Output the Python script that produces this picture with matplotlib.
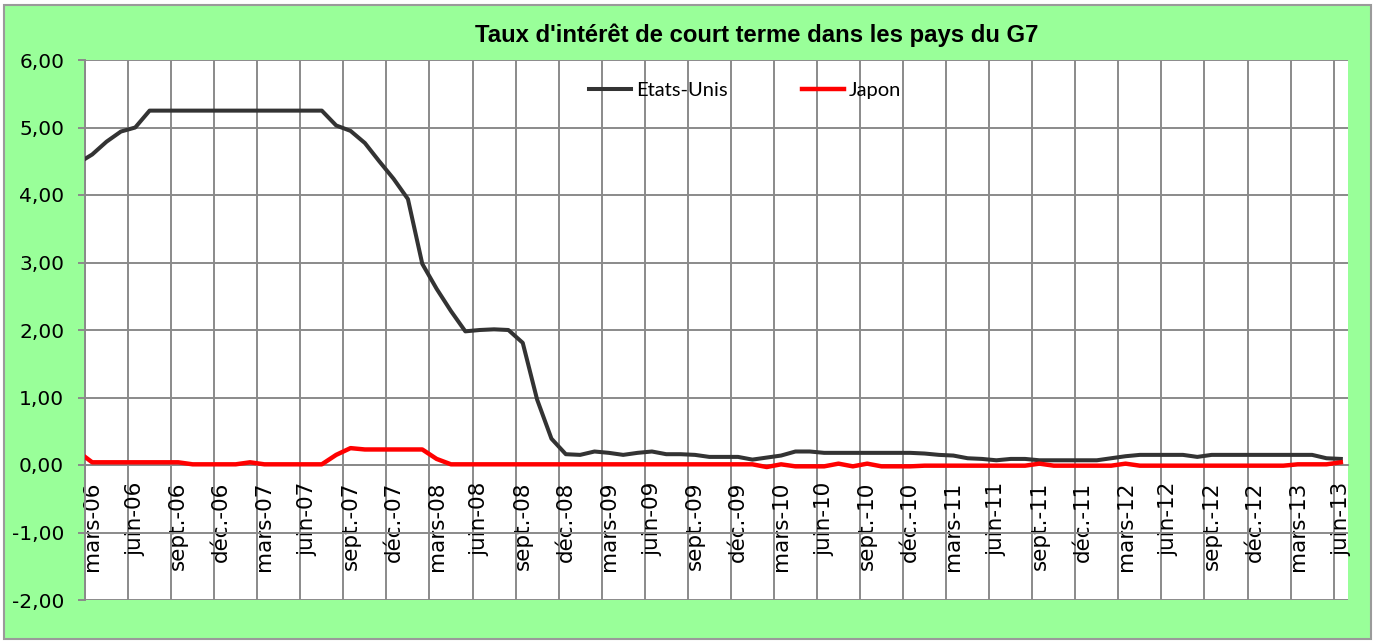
import matplotlib
matplotlib.use("Agg")
import matplotlib.pyplot as plt
import numpy as np
from matplotlib.patches import Rectangle
from matplotlib.transforms import ScaledTranslation
from matplotlib.ticker import FixedLocator, FuncFormatter

# ---- data (monthly, févr.-06 .. juin-13) ----
mois = ["janv.", "févr.", "mars", "avr.", "mai", "juin",
        "juil.", "août", "sept.", "oct.", "nov.", "déc."]
categories = []
for yr in range(6, 14):
    for mi, mname in enumerate(mois):
        if (yr == 6 and mi < 1) or (yr == 13 and mi > 5):
            continue
        categories.append(f"{mname}-{yr:02d}")

etats_unis = [
    4.47, 4.60, 4.79, 4.94, 5.00, 5.25, 5.25, 5.25, 5.25, 5.25, 5.25,          # 2006 (fév-déc)
    5.25, 5.25, 5.25, 5.25, 5.25, 5.25, 5.25, 5.03, 4.95, 4.77, 4.50, 4.24,    # 2007
    3.94, 2.98, 2.61, 2.28, 1.98, 2.00, 2.01, 2.00, 1.81, 0.97, 0.39, 0.16,    # 2008
    0.15, 0.20, 0.18, 0.15, 0.18, 0.20, 0.16, 0.16, 0.15, 0.12, 0.12, 0.12,    # 2009
    0.08, 0.11, 0.14, 0.20, 0.20, 0.18, 0.18, 0.18, 0.18, 0.18, 0.18, 0.18,    # 2010
    0.17, 0.15, 0.14, 0.10, 0.09, 0.07, 0.09, 0.09, 0.07, 0.07, 0.07, 0.07,    # 2011
    0.07, 0.10, 0.13, 0.15, 0.15, 0.15, 0.15, 0.12, 0.15, 0.15, 0.15, 0.15,    # 2012
    0.15, 0.15, 0.15, 0.15, 0.10, 0.09,                                        # 2013
]
japon = [
    0.20, 0.04, 0.04, 0.04, 0.04, 0.04, 0.04, 0.04, 0.01, 0.01, 0.01,          # 2006
    0.01, 0.04, 0.01, 0.01, 0.01, 0.01, 0.01, 0.15, 0.25, 0.23, 0.23, 0.23,    # 2007
    0.23, 0.23, 0.09, 0.01, 0.01, 0.01, 0.01, 0.01, 0.01, 0.01, 0.01, 0.01,    # 2008
    0.01, 0.01, 0.01, 0.01, 0.01, 0.01, 0.01, 0.01, 0.01, 0.01, 0.01, 0.01,    # 2009
    0.01, -0.03, 0.01, -0.02, -0.02, -0.02, 0.02, -0.02, 0.02, -0.02, -0.02, -0.02,  # 2010
    -0.01, -0.01, -0.01, -0.01, -0.01, -0.01, -0.01, -0.01, 0.02, -0.01, -0.01, -0.01,  # 2011
    -0.01, -0.01, 0.02, -0.01, -0.01, -0.01, -0.01, -0.01, -0.01, -0.01, -0.01, -0.01,  # 2012
    -0.01, -0.01, 0.01, 0.01, 0.01, 0.04,                                     # 2013
]
y_ticks = [-2, -1, 0, 1, 2, 3, 4, 5, 6]
title = "Taux d'intérêt de court terme dans les pays du G7"

# ---- figure ----
W, H = 1376, 643
fig = plt.figure(figsize=(W / 100, H / 100), dpi=100)
fig.patch.set_facecolor("white")
fig.patches.append(Rectangle((4 / W, 4 / H), (W - 9) / W, (H - 9) / H,
                             transform=fig.transFigure, facecolor="#99FF99",
                             edgecolor="#9a9a9a", lw=1.5, zorder=-10))

ax = fig.add_axes([85 / W, 1 - 600 / H, (1348 - 85) / W, 540 / H])
ax.set_facecolor("white")

x = np.arange(len(categories))
ax.plot(x, etats_unis, color="#333333", lw=2.9, solid_joinstyle="round",
        label="Etats-Unis", zorder=3)
ax.plot(x, japon, color="#FF0000", lw=3.2, solid_joinstyle="round",
        label="Japon", zorder=3)

ax.set_xlim(0.5, len(categories) - 0.5)
ax.set_ylim(-2, 6)

grid_col = "#8a8a8a"
# x: gridlines at category boundaries, labels at category centers
ax.xaxis.set_major_locator(FixedLocator(np.arange(0.5, len(categories) - 0.9, 3)))
ax.xaxis.set_major_formatter(FuncFormatter(lambda v, p: ""))
lab_pos = np.arange(1, len(categories), 3)
ax.xaxis.set_minor_locator(FixedLocator(lab_pos))
ax.set_xticklabels([categories[i] for i in lab_pos], minor=True)
ax.tick_params(axis="x", which="both", length=0)
ax.tick_params(axis="x", which="minor", pad=12, labelrotation=90,
               labelsize=15.5, labelcolor="black")
for lab in ax.get_xticklabels(minor=True):
    lab.set_fontfamily("Lato")
    lab.set_transform(lab.get_transform() + ScaledTranslation(4 / 100, 0, fig.dpi_scale_trans))

ax.set_yticks(y_ticks)
ax.yaxis.set_major_formatter(FuncFormatter(lambda v, p: f"{v:.2f}".replace(".", ",")))
ax.tick_params(axis="y", which="major", length=5, width=1.4, color=grid_col,
               pad=10, labelsize=14.5, labelcolor="black", direction="out")
for lab in ax.get_yticklabels():
    lab.set_fontfamily("DejaVu Sans")

ax.grid(True, which="major", color=grid_col, lw=1.4)
ax.set_axisbelow(True)

for s in ["top", "right"]:
    ax.spines[s].set_visible(False)
ax.spines["left"].set_color(grid_col)
ax.spines["left"].set_linewidth(1.4)
ax.spines["bottom"].set_position(("data", 0))
ax.spines["bottom"].set_color(grid_col)
ax.spines["bottom"].set_linewidth(1.4)

leg = ax.legend(loc="center", bbox_to_anchor=((745 - 85) / 1263, (600 - 90.7) / 540),
                ncol=2, frameon=False, handlelength=2.07, handletextpad=0.25,
                columnspacing=3.7, prop={"family": "Lato", "size": 14.5})

fig.text(757 / W, 1 - 35 / H, title, ha="center", va="center",
         fontsize=17.2, fontweight="bold", family="Liberation Sans")

fig.savefig("out.png", dpi=100, facecolor=fig.get_facecolor())
